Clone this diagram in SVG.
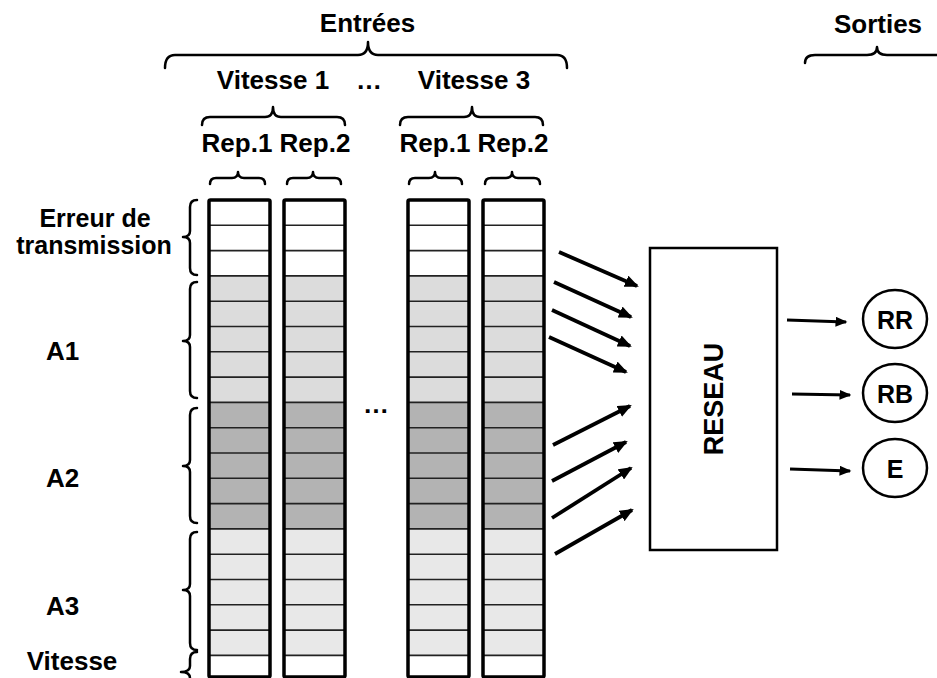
<svg xmlns="http://www.w3.org/2000/svg" width="937" height="678" viewBox="0 0 937 678">
<style>
text{font-family:"Liberation Sans",Arial,sans-serif;font-weight:bold;fill:#000;text-anchor:middle}
.t{font-size:26px}
.s{font-size:25px}
.c{font-size:25px}
.brace{fill:none;stroke:#000;stroke-width:2.5;stroke-linecap:round;stroke-linejoin:round}
.sep{stroke:#222;stroke-width:1.6}
.outline{fill:none;stroke:#000;stroke-width:3.5;stroke-linejoin:round}
.w{fill:#fff}.g1{fill:#dcdcdc}.g2{fill:#b3b3b3}.g3{fill:#e8e8e8}
.arr{stroke:#000;stroke-width:3.8;fill:none;marker-end:url(#ah)}
.arr2{stroke:#000;stroke-width:3.2;fill:none;marker-end:url(#ah2)}
.node{fill:#fff;stroke:#000;stroke-width:2.5}
</style>
<defs>
<marker id="ah" markerUnits="userSpaceOnUse" markerWidth="14" markerHeight="12" refX="12" refY="6" orient="auto" viewBox="0 0 14 12">
<path d="M0,0 L14,6 L0,12 z" fill="#000"/>
</marker>
<marker id="ah2" markerUnits="userSpaceOnUse" markerWidth="12" markerHeight="10" refX="10.5" refY="5" orient="auto" viewBox="0 0 12 10">
<path d="M0,0 L12,5 L0,10 z" fill="#000"/>
</marker>
<g id="colbody">
<rect class="w" x="0" y="0" width="61" height="75.9"/>
<rect class="g1" x="0" y="75.9" width="61" height="126.5"/>
<rect class="g2" x="0" y="202.4" width="61" height="126.5"/>
<rect class="g3" x="0" y="328.9" width="61" height="126.5"/>
<rect class="w" x="0" y="455.4" width="61" height="21.6"/>
<path class="sep" d="M0,25.3H61M0,50.6H61M0,75.9H61M0,101.2H61M0,126.5H61M0,151.8H61M0,177.1H61M0,202.4H61M0,227.7H61M0,253H61M0,278.3H61M0,303.6H61M0,328.9H61M0,354.2H61M0,379.5H61M0,404.8H61M0,430.1H61M0,455.4H61"/>
<rect class="outline" x="0" y="0" width="61" height="477" rx="1.5"/>
</g>
</defs>

<g id="titles">
<text class="t" x="367.5" y="32">Entrées</text>
<path class="brace" d="M165,68 Q165,55 175,55 L358,55 Q368,55 368,42 Q368,55 378,55 L557,55 Q567,55 567,68"/>
<text class="t" x="878" y="33">Sorties</text>
<path class="brace" d="M805,63 Q805,55 815,55 L867,55 Q877,55 877,47 Q877,55 887,55 L950,55"/>
</g>

<g id="speeds">
<text class="t" x="273" y="89">Vitesse 1</text>
<text class="t" x="369" y="89">…</text>
<text class="t" x="474" y="89">Vitesse 3</text>
<path class="brace" d="M202,125 Q202,117 210,117 L265,117 Q273,117 273,107 Q273,117 281,117 L337,117 Q345,117 345,125"/>
<path class="brace" d="M400,125 Q400,117 408,117 L464,117 Q472,117 472,107 Q472,117 480,117 L535,117 Q543,117 543,125"/>
</g>

<g id="reps">
<text class="t" x="237" y="152">Rep.1</text>
<text class="t" x="315" y="152">Rep.2</text>
<text class="t" x="435" y="152">Rep.1</text>
<text class="t" x="513" y="152">Rep.2</text>
<path class="brace" d="M210,184 Q210,178 216,178 L232,178 Q238,178 238,172 Q238,178 244,178 L259,178 Q265,178 265,184"/>
<path class="brace" d="M287,184 Q287,178 293,178 L307,178 Q313,178 313,172 Q313,178 319,178 L335,178 Q341,178 341,184"/>
<path class="brace" d="M409,184 Q409,178 415,178 L429,178 Q435,178 435,172 Q435,178 441,178 L456,178 Q462,178 462,184"/>
<path class="brace" d="M485,184 Q485,178 491,178 L506,178 Q512,178 512,172 Q512,178 518,178 L534,178 Q540,178 540,184"/>
</g>

<g id="columns">
<use href="#colbody" x="209" y="200"/>
<use href="#colbody" x="284" y="200"/>
<use href="#colbody" x="408" y="200"/>
<use href="#colbody" x="483" y="200"/>
<text class="t" x="376" y="413">…</text>
</g>

<g id="row-labels">
<text class="s" x="95" y="227">Erreur de</text>
<text class="s" x="94" y="254">transmission</text>
<text class="t" x="62.5" y="360">A1</text>
<text class="t" x="62.5" y="487">A2</text>
<text class="t" x="62.5" y="615">A3</text>
<text class="t" x="72" y="670">Vitesse</text>
<path class="brace" d="M197,200 Q190,200 190,207 L190,231 Q190,237 183,237 Q190,237 190,243 L190,268 Q190,275 197,275"/>
<path class="brace" d="M197,282 Q190,282 190,289 L190,335 Q190,341 183,341 Q190,341 190,347 L190,391 Q190,398 197,398"/>
<path class="brace" d="M197,408 Q190,408 190,415 L190,460 Q190,466 183,466 Q190,466 190,472 L190,516 Q190,523 197,523"/>
<path class="brace" d="M197,532 Q190,532 190,539 L190,584 Q190,590 183,590 Q190,590 190,596 L190,643 Q190,650 197,650"/>
<path class="brace" d="M197,652 Q190,652 190,659 L190,666 Q190,672 181,672 Q190,672 190,678 L190,692"/>
</g>

<g id="reseau">
<rect x="650" y="248" width="127" height="302" fill="#fff" stroke="#000" stroke-width="2.5"/>
<text style="font-size:27px" transform="translate(723,399) rotate(-90)">RESEAU</text>
</g>

<g id="out-RR">
<ellipse class="node" cx="895" cy="319" rx="32" ry="29"/>
<text class="c" x="895" y="329">RR</text>
</g>
<g id="out-RB">
<ellipse class="node" cx="895" cy="393" rx="32" ry="29"/>
<text class="c" x="895" y="403">RB</text>
</g>
<g id="out-E">
<ellipse class="node" cx="895" cy="468" rx="32" ry="29"/>
<text class="c" x="895" y="478">E</text>
</g>

<g id="connectors">
<path class="arr" d="M559,252 L637,286"/>
<path class="arr" d="M554,282 L631,317"/>
<path class="arr" d="M552,310 L630,346"/>
<path class="arr" d="M549,337 L626,372"/>
<path class="arr" d="M553,445 L630,406"/>
<path class="arr" d="M552,481 L626,442"/>
<path class="arr" d="M552,518 L631,468"/>
<path class="arr" d="M555,554 L632,510"/>
<path class="arr2" d="M787,320 L846,322"/>
<path class="arr2" d="M792,394 L850,395"/>
<path class="arr2" d="M790,469 L850,471"/>
</g>
</svg>
